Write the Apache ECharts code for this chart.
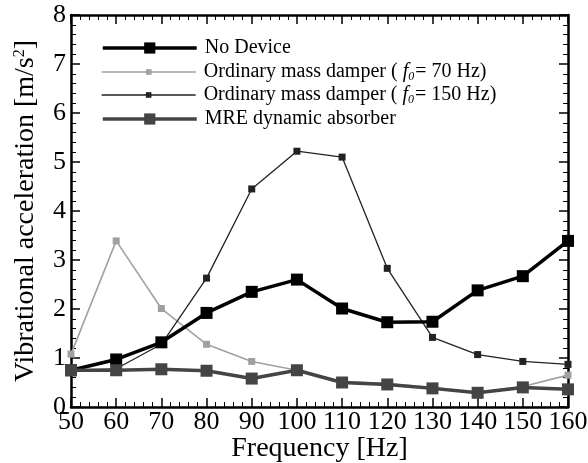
<!DOCTYPE html>
<html>
<head>
<meta charset="utf-8">
<script src="https://cdn.jsdelivr.net/npm/echarts@6/dist/echarts.min.js"></script>
<style>
  html, body { margin: 0; padding: 0; background: #fff; }
  #chart { width: 588px; height: 463px; }
</style>
</head>
<body>
<div id="chart"></div>
<script>
// frequency steps
var freqs = [50, 60, 70, 80, 90, 100, 110, 120, 130, 140, 150, 160];
var noDevice = [0.75, 0.97, 1.32, 1.92, 2.35, 2.60, 2.01, 1.73, 1.74, 2.38, 2.67, 3.39];
var damper70 = [1.08, 3.39, 2.01, 1.28, 0.93, 0.75, 0.52, 0.48, 0.40, 0.30, 0.42, 0.65];
var damper150 = [0.75, 0.78, 1.28, 2.63, 4.45, 5.22, 5.10, 2.83, 1.42, 1.07, 0.93, 0.87];
var mreAbsorber = [0.75, 0.75, 0.77, 0.74, 0.58, 0.75, 0.50, 0.46, 0.38, 0.29, 0.40, 0.36];

var seriesNames = [
    'No Device',
    'Ordinary mass damper (f0 = 70 Hz)',
    'Ordinary mass damper (f0 = 150 Hz)',
    'MRE dynamic absorber'
];
var legendLabels = [
    '{t|No Device}',
    '{t|Ordinary mass damper ( }{i|f}{sub|0}{t|= 70 Hz)}',
    '{t|Ordinary mass damper ( }{i|f}{sub|0}{t|= 150 Hz)}',
    '{t|MRE dynamic absorber}'
];

function pairs(ys) {
    return freqs.map(function(f, i) { return [f, ys[i]]; });
}

var font = 'Liberation Serif';
var chart = echarts.init(document.getElementById('chart'));

var richText = {
    t: { fontFamily: font, fontSize: 20, color: '#000', lineHeight: 22 },
    i: { fontFamily: font, fontSize: 20, color: '#000', fontStyle: 'italic', lineHeight: 22 },
    sub: { fontFamily: font, fontSize: 12, color: '#000', fontStyle: 'italic', verticalAlign: 'bottom', lineHeight: 15, padding: [0, 1, 0, 0] }
};

function legendRow(idx, top, h, col, w) {
    return {
        show: true,
        data: [seriesNames[idx]],
        left: 96,
        top: top,
        itemWidth: 94,
        itemHeight: h,
        itemGap: 0,
        lineStyle: { color: col, width: w },
        itemStyle: { color: col },
        formatter: function() { return legendLabels[idx]; },
        textStyle: { rich: richText, padding: [0, 0, 0, 3] },
        selectedMode: false
    };
}

var axisLineStyle = { color: '#000', width: 2.5 };

function xAxisCfg(pos, showLabel) {
    return {
        type: 'value', position: pos, min: 50, max: 160, interval: 10,
        name: showLabel ? 'Frequency [Hz]' : '',
        nameLocation: 'middle', nameGap: 28, nameMoveOverlap: false,
        nameTextStyle: { fontFamily: font, fontSize: 28, color: '#000' },
        axisLine: { show: true, onZero: false, lineStyle: axisLineStyle },
        axisTick: { show: true, inside: true, length: 9, lineStyle: { color: '#000', width: 1.5 } },
        minorTick: { show: true, splitNumber: 5, length: 5, lineStyle: { color: '#000', width: 1 } },
        axisLabel: { show: showLabel, fontFamily: font, fontSize: 26, color: '#000', margin: 2 },
        splitLine: { show: false }
    };
}

function yAxisCfg(pos, showLabel) {
    return {
        type: 'value', position: pos, min: 0, max: 8, interval: 1,
        name: showLabel ? '{a|Vibrational acceleration [m/s}{sup|2}{a|]}' : '',
        nameLocation: 'middle', nameGap: 31, nameRotate: 90, nameMoveOverlap: false,
        nameTextStyle: {
            fontFamily: font, fontSize: 28, color: '#000',
            rich: {
                a: { fontFamily: font, fontSize: 28, color: '#000' },
                sup: { fontFamily: font, fontSize: 16, color: '#000', verticalAlign: 'top', padding: [0, 0, 12, 0] }
            }
        },
        axisLine: { show: true, onZero: false, lineStyle: axisLineStyle },
        axisTick: { show: true, inside: true, length: 9, lineStyle: { color: '#000', width: 1.5 } },
        minorTick: { show: true, splitNumber: 5, length: 5, lineStyle: { color: '#000', width: 1 } },
        axisLabel: { show: showLabel, fontFamily: font, fontSize: 26, color: '#000', margin: 5 },
        splitLine: { show: false }
    };
}

var option = {
    animation: false,
    backgroundColor: '#fff',
    grid: { left: 71, right: 20, top: 15, bottom: 56, containLabel: false, outerBoundsMode: 'none' },
    legend: [
        legendRow(0, 33, 14, '#000', 3.5),
        legendRow(1, 57, 7, '#a0a0a0', 1.6),
        legendRow(2, 80, 7, '#222', 1.3),
        legendRow(3, 104, 14, '#444', 3.5)
    ],
    xAxis: [xAxisCfg('bottom', true), xAxisCfg('top', false)],
    yAxis: [yAxisCfg('left', true), yAxisCfg('right', false)],
    series: [
        {
            name: seriesNames[1], type: 'line', data: pairs(damper70), z: 2,
            symbol: 'rect', symbolSize: 7,
            lineStyle: { color: '#a0a0a0', width: 1.6 }, itemStyle: { color: '#a0a0a0' }
        },
        {
            name: seriesNames[2], type: 'line', data: pairs(damper150), z: 3,
            symbol: 'rect', symbolSize: 7,
            lineStyle: { color: '#222', width: 1.3 }, itemStyle: { color: '#222' }
        },
        {
            name: seriesNames[0], type: 'line', data: pairs(noDevice), z: 4,
            symbol: 'rect', symbolSize: 12,
            lineStyle: { color: '#000', width: 3.5 }, itemStyle: { color: '#000' }
        },
        {
            name: seriesNames[3], type: 'line', data: pairs(mreAbsorber), z: 5,
            symbol: 'rect', symbolSize: 12,
            lineStyle: { color: '#444', width: 3.5 }, itemStyle: { color: '#444' }
        }
    ]
};

chart.setOption(option);
</script>
</body>
</html>
